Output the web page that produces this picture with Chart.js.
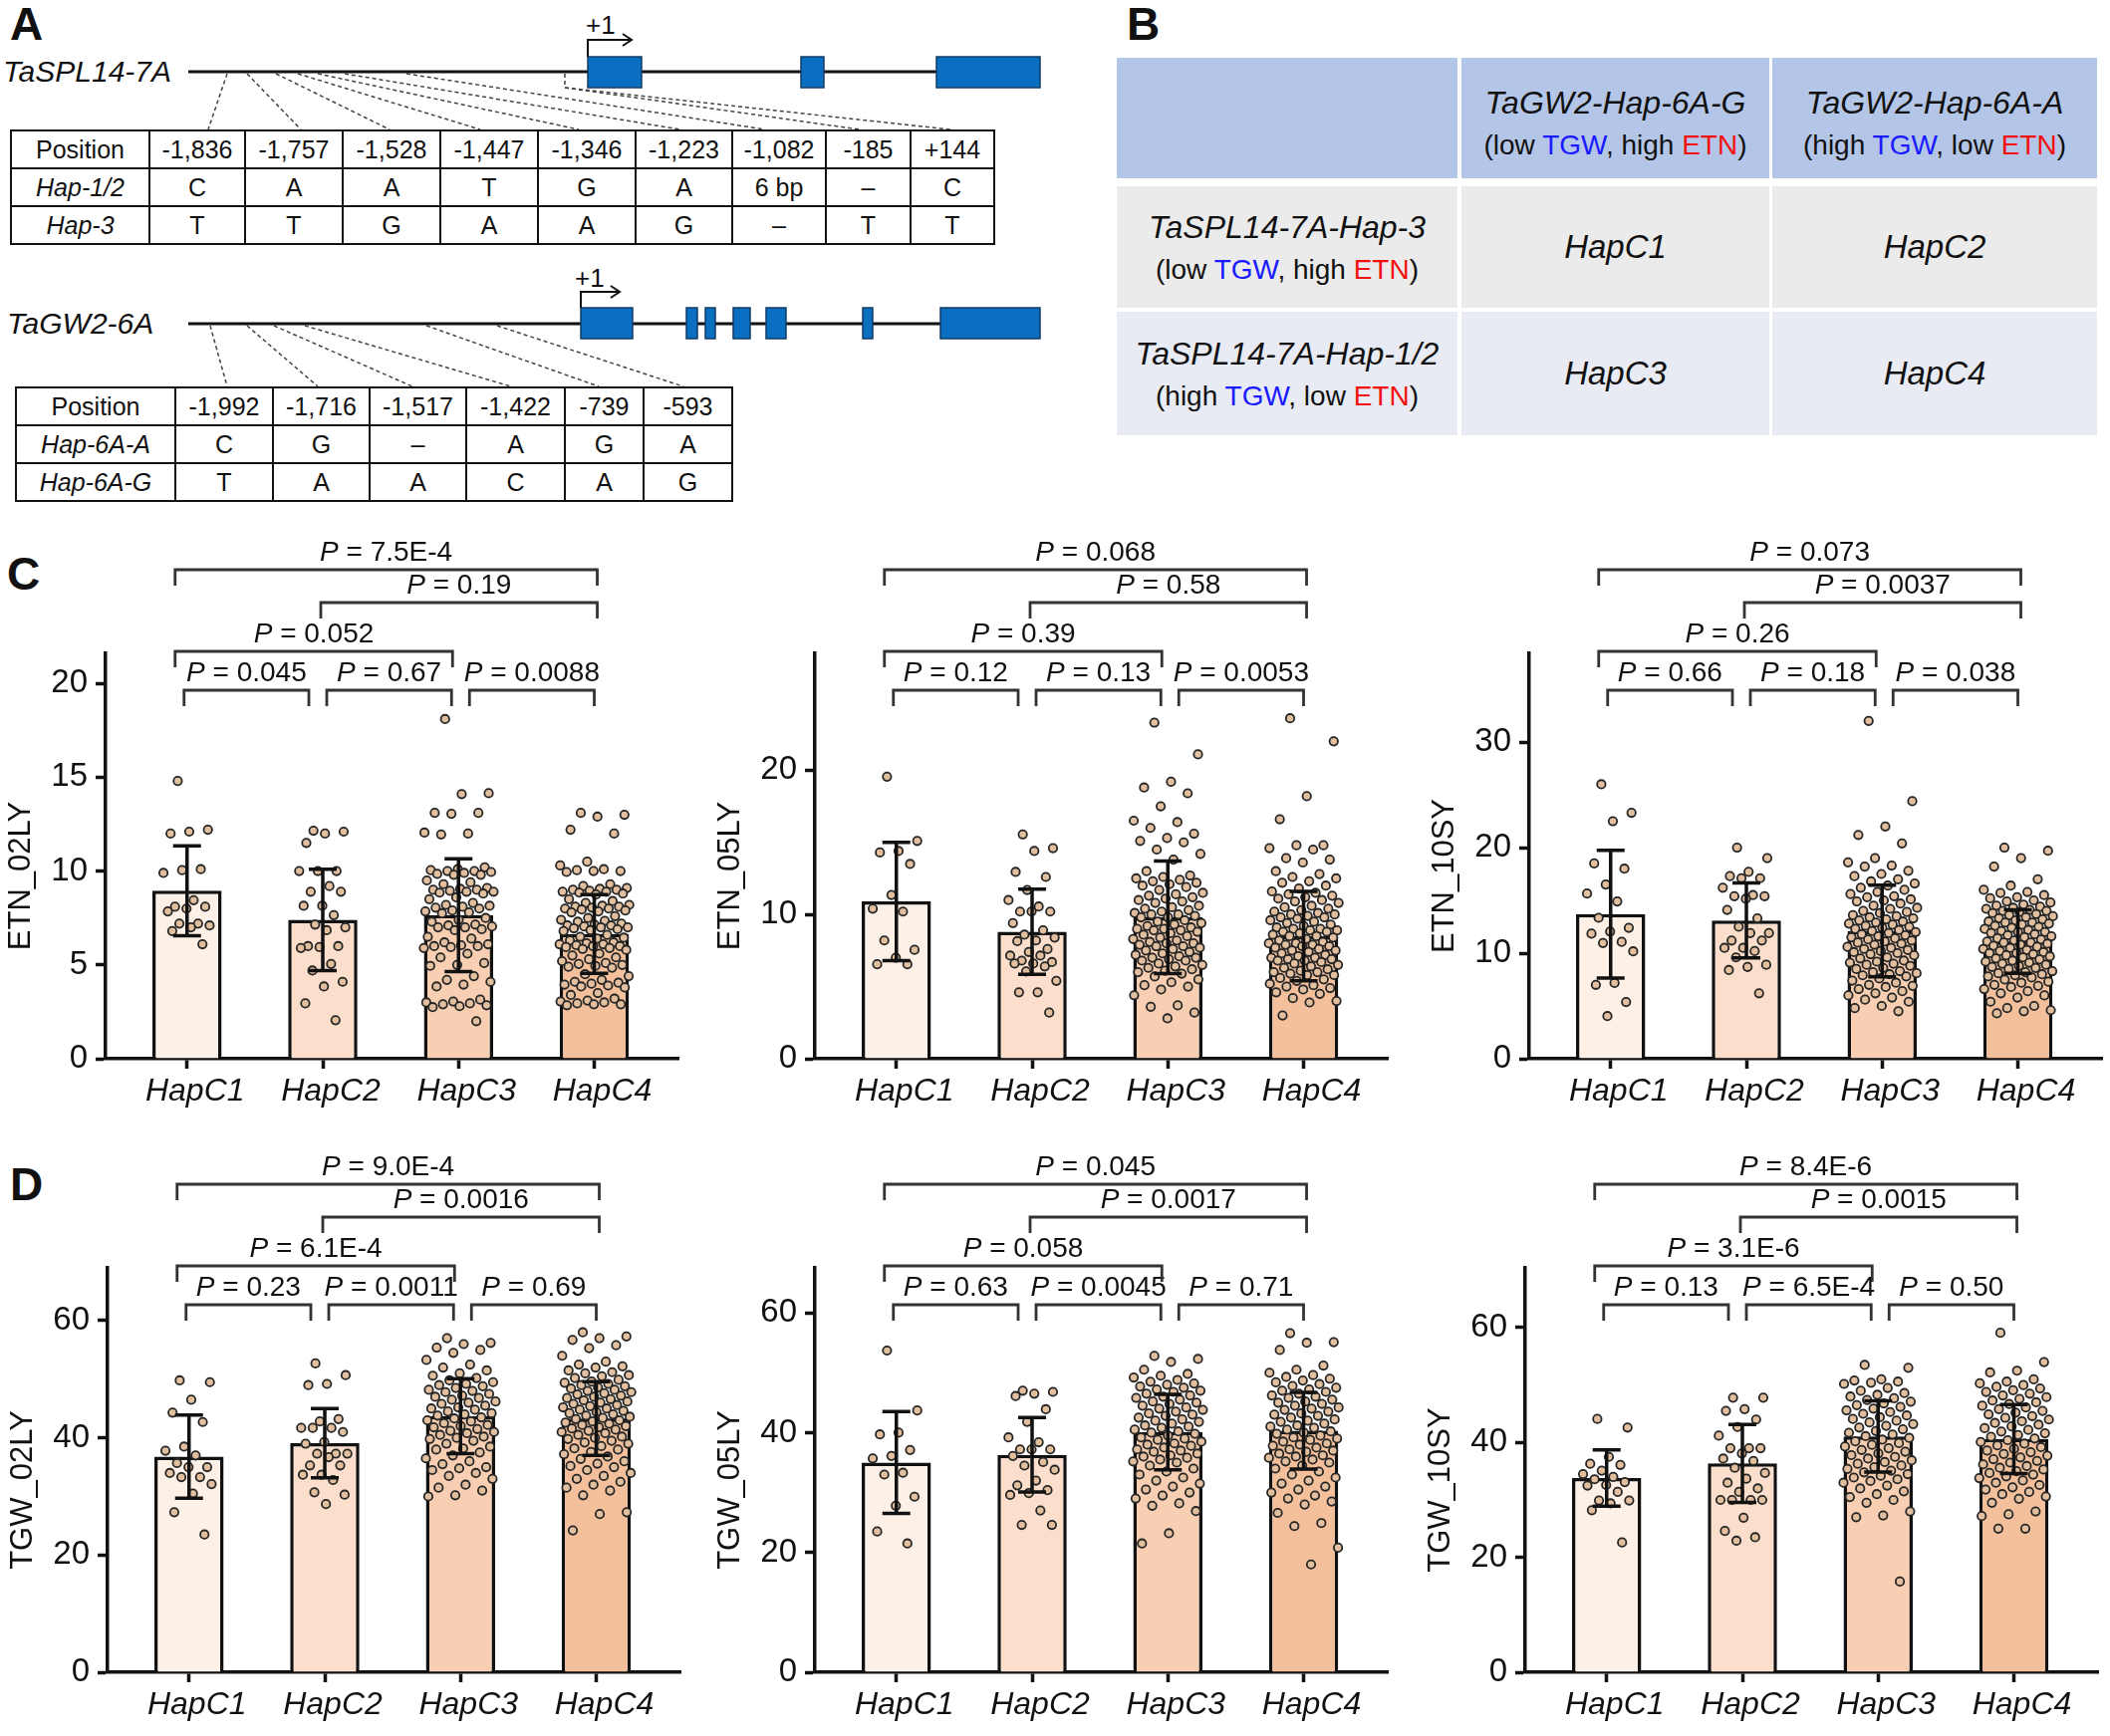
<!DOCTYPE html>
<html>
<head>
<meta charset="utf-8">
<script src="https://cdn.jsdelivr.net/npm/chart.js@4.4.1/dist/chart.umd.min.js"></script>
<style>
body{margin:0;width:2118px;height:1743px;position:relative;background:#fff;font-family:'Liberation Sans',Arial,sans-serif;color:#111;overflow:hidden}
.lab{position:absolute;font-weight:bold;font-size:46px;line-height:46px}
.gt{position:absolute;font-style:italic;font-size:30px;line-height:30px}
table.snp{position:absolute;border-collapse:collapse;table-layout:fixed;font-size:25px}
table.snp td{border:2px solid #111;text-align:center;padding:0;height:36px;white-space:nowrap}
table.snp td.i{font-style:italic}
.cell{position:absolute;display:flex;flex-direction:column;align-items:center;justify-content:center}
.nm{font-style:italic;font-size:32px;line-height:46px}
.ph{font-size:28px;line-height:40px}
.hc{font-style:italic;font-size:33px}
.tg{color:#1a1aff}.en{color:#f21010}
canvas{position:absolute}
</style>
</head>
<body>

<div class="lab" style="left:10px;top:1px">A</div>
<div class="lab" style="left:1131px;top:1px">B</div>
<div class="lab" style="left:7px;top:553px">C</div>
<div class="lab" style="left:10px;top:1166px">D</div>

<!-- gene structures -->
<div class="gt" style="left:3px;top:57px">TaSPL14-7A</div>
<div class="gt" style="left:7px;top:310px">TaGW2-6A</div>
<svg style="position:absolute;left:0;top:0" width="1060" height="520">
  <g stroke="#444" stroke-width="1.5" stroke-dasharray="4 3" fill="none">
    <line x1="228" y1="74" x2="209" y2="130"/>
    <line x1="248" y1="74" x2="302" y2="130"/>
    <line x1="277" y1="74" x2="391" y2="130"/>
    <line x1="299" y1="74" x2="482" y2="130"/>
    <line x1="319" y1="74" x2="581" y2="130"/>
    <line x1="346" y1="74" x2="683" y2="130"/>
    <line x1="408" y1="74" x2="768" y2="130"/>
    <polyline points="567,74 567,88 863,130"/>
    <line x1="567" y1="88" x2="954" y2="130"/>
    <line x1="211" y1="327" x2="228" y2="388"/>
    <line x1="248" y1="327" x2="319" y2="388"/>
    <line x1="275" y1="327" x2="414" y2="388"/>
    <line x1="306" y1="327" x2="513" y2="388"/>
    <line x1="428" y1="327" x2="601" y2="388"/>
    <line x1="499" y1="327" x2="686" y2="388"/>
  </g>
  <line x1="189" y1="72" x2="1044" y2="72" stroke="#111" stroke-width="3"/>
  <line x1="189" y1="325" x2="1044" y2="325" stroke="#111" stroke-width="3"/>
  <g fill="#0b6fc1" stroke="#123c66" stroke-width="1.5">
    <rect x="590" y="57" width="54" height="31"/>
    <rect x="804" y="57" width="23" height="31"/>
    <rect x="940" y="57" width="104" height="31"/>
    <rect x="583" y="309" width="52" height="31"/>
    <rect x="689" y="309" width="11" height="31"/>
    <rect x="708" y="309" width="10" height="31"/>
    <rect x="736" y="309" width="17" height="31"/>
    <rect x="769" y="309" width="20" height="31"/>
    <rect x="866" y="309" width="10" height="31"/>
    <rect x="944" y="309" width="100" height="31"/>
  </g>
  <g stroke="#111" stroke-width="2" fill="none">
    <polyline points="590,57 590,40 634,40"/>
    <polyline points="625,34 634,40 625,46"/>
    <polyline points="583,309 583,293 622,293"/>
    <polyline points="613,287 622,293 613,299"/>
  </g>
  <g font-family="Liberation Sans, Arial, sans-serif" font-size="26" fill="#111">
    <text x="588" y="34">+1</text>
    <text x="577" y="288">+1</text>
  </g>
</svg>

<table class="snp" style="left:10px;top:130px;width:987px">
  <colgroup><col style="width:139px"><col style="width:96px"><col style="width:98px"><col style="width:98px"><col style="width:98px"><col style="width:98px"><col style="width:97px"><col style="width:94px"><col style="width:85px"><col style="width:84px"></colgroup>
  <tr><td>Position</td><td>-1,836</td><td>-1,757</td><td>-1,528</td><td>-1,447</td><td>-1,346</td><td>-1,223</td><td>-1,082</td><td>-185</td><td>+144</td></tr>
  <tr><td class="i">Hap-1/2</td><td>C</td><td>A</td><td>A</td><td>T</td><td>G</td><td>A</td><td>6 bp</td><td>–</td><td>C</td></tr>
  <tr><td class="i">Hap-3</td><td>T</td><td>T</td><td>G</td><td>A</td><td>A</td><td>G</td><td>–</td><td>T</td><td>T</td></tr>
</table>

<table class="snp" style="left:15px;top:388px;width:719px">
  <colgroup><col style="width:160px"><col style="width:98px"><col style="width:97px"><col style="width:97px"><col style="width:99px"><col style="width:79px"><col style="width:89px"></colgroup>
  <tr><td>Position</td><td>-1,992</td><td>-1,716</td><td>-1,517</td><td>-1,422</td><td>-739</td><td>-593</td></tr>
  <tr><td class="i">Hap-6A-A</td><td>C</td><td>G</td><td>–</td><td>A</td><td>G</td><td>A</td></tr>
  <tr><td class="i">Hap-6A-G</td><td>T</td><td>A</td><td>A</td><td>C</td><td>A</td><td>G</td></tr>
</table>

<!-- haplotype combination table -->
<div class="cell" style="left:1121px;top:58px;width:342px;height:121px;background:#b4c6e7"></div>
<div class="cell" style="left:1467px;top:58px;width:309px;height:121px;background:#b4c6e7;padding-top:9px;box-sizing:border-box">
  <div class="nm">TaGW2-Hap-6A-G</div>
  <div class="ph">(low <span class="tg">TGW</span>, high <span class="en">ETN</span>)</div>
</div>
<div class="cell" style="left:1779px;top:58px;width:326px;height:121px;background:#b4c6e7;padding-top:9px;box-sizing:border-box">
  <div class="nm">TaGW2-Hap-6A-A</div>
  <div class="ph">(high <span class="tg">TGW</span>, low <span class="en">ETN</span>)</div>
</div>
<div class="cell" style="left:1121px;top:187px;width:342px;height:122px;background:#ebebeb">
  <div class="nm">TaSPL14-7A-Hap-3</div>
  <div class="ph">(low <span class="tg">TGW</span>, high <span class="en">ETN</span>)</div>
</div>
<div class="cell hc" style="left:1467px;top:187px;width:309px;height:122px;background:#ebebeb">HapC1</div>
<div class="cell hc" style="left:1779px;top:187px;width:326px;height:122px;background:#ebebeb">HapC2</div>
<div class="cell" style="left:1121px;top:313px;width:342px;height:124px;background:#e8ebf4">
  <div class="nm">TaSPL14-7A-Hap-1/2</div>
  <div class="ph">(high <span class="tg">TGW</span>, low <span class="en">ETN</span>)</div>
</div>
<div class="cell hc" style="left:1467px;top:313px;width:309px;height:124px;background:#e8ebf4">HapC3</div>
<div class="cell hc" style="left:1779px;top:313px;width:326px;height:124px;background:#e8ebf4">HapC4</div>

<script>
const categories = ['HapC1', 'HapC2', 'HapC3', 'HapC4'];
// comparisons, in the order of the P value lists
const pairs = [[0, 1], [1, 2], [2, 3], [0, 2], [1, 3], [0, 3]];

// ETN_02LY
const etn02Mean = [8.95, 7.4, 7.65, 6.65];
const etn02Sd = [2.4, 2.7, 3.0, 2.1];
const etn02Ticks = [0, 5, 10, 15, 20];
const etn02P = ['0.045', '0.67', '0.0088', '0.052', '0.19', '7.5E-4'];
const etn02Pts = [
  [14.8, 12.2, 12.1, 12.0, 10.1, 10.05, 9.9, 8.45, 8.1, 8.1, 8.0, 7.85, 7.2, 7.2, 7.1, 7.0, 6.8, 6.1],
  [12.15, 12.1, 12.0, 11.5, 10.0, 10.0, 10.0, 9.2, 8.9, 8.9, 8.15, 8.15, 7.65, 7.15, 7.0, 6.85, 6.0, 6.0, 5.95, 5.9, 5.05, 4.7, 4.1, 3.85, 2.95, 2.05],
  [18.1, 14.15, 14.1, 13.1, 13.1, 13.05, 12.05, 12.0, 11.95, 10.2, 10.1, 10.05, 10.0, 10.0, 9.95, 9.9, 9.85, 9.8, 9.8, 9.5, 9.4, 9.3, 9.1, 9.05, 9.0, 9.0, 8.95, 8.9, 8.9, 8.85, 8.8, 8.6, 8.5, 8.3, 8.2, 8.15, 8.1, 8.05, 8.0, 7.9, 7.85, 7.8, 7.75, 7.5, 7.4, 7.3, 7.15, 7.1, 7.05, 7.0, 7.0, 6.9, 6.85, 6.5, 6.4, 6.2, 6.1, 6.05, 6.0, 6.0, 5.95, 5.9, 5.6, 5.4, 5.1, 5.0, 4.95, 4.4, 4.2, 4.1, 3.95, 3.85, 3.15, 3.05, 3.0, 2.95, 2.9, 2.85, 2.8, 2.75, 2.0],
  [13.1, 13.0, 12.9, 12.2, 12.0, 10.5, 10.3, 10.1, 10.05, 10.0, 10.0, 9.95, 9.3, 9.2, 9.1, 9.05, 9.0, 9.0, 8.95, 8.9, 8.9, 8.85, 8.8, 8.75, 8.5, 8.4, 8.3, 8.2, 8.15, 8.1, 8.1, 8.05, 8.0, 8.0, 7.95, 7.9, 7.85, 7.8, 7.6, 7.5, 7.4, 7.35, 7.3, 7.2, 7.15, 7.1, 7.1, 7.05, 7.0, 7.0, 6.95, 6.9, 6.85, 6.8, 6.6, 6.5, 6.45, 6.4, 6.3, 6.2, 6.15, 6.1, 6.1, 6.05, 6.0, 6.0, 5.95, 5.9, 5.85, 5.8, 5.6, 5.5, 5.4, 5.3, 5.2, 5.1, 5.05, 5.0, 4.95, 4.9, 4.85, 4.5, 4.4, 4.2, 4.1, 4.05, 4.0, 3.95, 3.9, 3.85, 3.8, 3.5, 3.4, 3.2, 3.1, 3.05, 3.0, 2.95, 2.9, 2.9, 2.85]
];

// ETN_05LY
const etn05Mean = [10.9, 8.8, 9.8, 8.5];
const etn05Sd = [4.1, 2.95, 3.9, 3.1];
const etn05Ticks = [0, 10, 20];
const etn05P = ['0.12', '0.13', '0.0053', '0.39', '0.58', '0.068'];
const etn05Pts = [
  [19.55, 15.1, 14.4, 14.3, 13.5, 11.35, 10.4, 10.2, 8.2, 7.55, 7.0, 6.55, 6.55],
  [15.55, 14.6, 14.4, 12.95, 12.6, 11.7, 11.0, 10.55, 10.2, 10.2, 10.2, 9.4, 8.9, 8.6, 8.4, 8.2, 8.15, 7.6, 7.4, 7.15, 7.15, 6.8, 6.7, 6.6, 6.6, 6.4, 6.05, 5.4, 4.6, 4.6, 3.2],
  [23.3, 21.1, 19.2, 18.8, 18.4, 17.5, 16.5, 16.4, 16.0, 15.6, 15.3, 15.1, 15.0, 14.5, 14.2, 13.8, 13.0, 12.7, 12.6, 12.5, 12.4, 12.3, 12.2, 12.1, 12.0, 11.9, 11.7, 11.5, 11.4, 11.3, 11.2, 11.1, 11.0, 10.9, 10.8, 10.6, 10.5, 10.4, 10.3, 10.2, 10.1, 10.0, 10.0, 9.9, 9.8, 9.8, 9.6, 9.5, 9.4, 9.3, 9.2, 9.1, 9.0, 9.0, 8.9, 8.9, 8.8, 8.7, 8.6, 8.5, 8.4, 8.3, 8.2, 8.1, 8.0, 8.0, 7.9, 7.8, 7.8, 7.7, 7.6, 7.5, 7.4, 7.3, 7.2, 7.1, 7.0, 7.0, 6.9, 6.8, 6.8, 6.6, 6.5, 6.4, 6.3, 6.2, 6.1, 6.0, 5.9, 5.7, 5.5, 5.3, 5.1, 5.0, 4.8, 4.4, 3.7, 3.6, 3.2, 2.8],
  [23.6, 22.0, 18.2, 16.6, 14.8, 14.8, 14.6, 14.5, 13.9, 13.8, 13.6, 13.0, 12.8, 12.6, 12.5, 12.3, 12.2, 12.0, 11.8, 11.6, 11.5, 11.4, 11.3, 11.2, 11.1, 11.0, 10.9, 10.8, 10.6, 10.5, 10.4, 10.3, 10.2, 10.1, 10.0, 10.0, 9.9, 9.8, 9.8, 9.7, 9.6, 9.5, 9.4, 9.3, 9.2, 9.1, 9.0, 9.0, 8.9, 8.9, 8.8, 8.8, 8.7, 8.6, 8.5, 8.5, 8.4, 8.3, 8.2, 8.1, 8.0, 8.0, 7.9, 7.9, 7.8, 7.8, 7.7, 7.6, 7.5, 7.5, 7.4, 7.3, 7.2, 7.1, 7.0, 7.0, 6.9, 6.9, 6.8, 6.8, 6.7, 6.6, 6.5, 6.4, 6.3, 6.2, 6.1, 6.0, 6.0, 5.9, 5.8, 5.8, 5.6, 5.5, 5.4, 5.2, 5.1, 5.0, 4.9, 4.8, 4.6, 4.5, 4.2, 4.0, 3.9, 3.0]
];

// ETN_10SY
const etn10Mean = [13.7, 13.1, 12.1, 11.1];
const etn10Sd = [6.05, 3.55, 4.35, 3.0];
const etn10Ticks = [0, 10, 20, 30];
const etn10P = ['0.66', '0.18', '0.038', '0.26', '0.0037', '0.073'];
const etn10Pts = [
  [26.0, 23.3, 22.5, 18.5, 18.0, 16.5, 15.65, 14.9, 13.35, 12.4, 12.05, 11.85, 11.07, 10.96, 10.17, 7.18, 7.0, 5.37, 4.04],
  [20.0, 19.0, 17.7, 17.3, 17.1, 17.1, 16.2, 15.5, 15.4, 15.4, 15.15, 14.1, 13.3, 12.5, 11.9, 11.9, 11.2, 11.2, 10.5, 10.5, 10.2, 9.6, 8.9, 8.7, 8.4, 6.2],
  [32.0, 24.4, 22.0, 21.2, 20.4, 19.0, 18.6, 18.3, 18.2, 17.8, 17.5, 17.3, 17.0, 16.8, 16.6, 16.4, 16.2, 16.0, 15.8, 15.6, 15.4, 15.3, 15.1, 15.0, 14.9, 14.7, 14.5, 14.3, 14.2, 14.0, 13.9, 13.8, 13.6, 13.5, 13.4, 13.3, 13.2, 13.1, 13.0, 12.9, 12.8, 12.7, 12.6, 12.5, 12.4, 12.3, 12.2, 12.1, 12.0, 11.9, 11.8, 11.7, 11.6, 11.5, 11.4, 11.3, 11.2, 11.1, 11.0, 10.9, 10.8, 10.6, 10.5, 10.4, 10.3, 10.2, 10.1, 10.0, 9.9, 9.8, 9.6, 9.5, 9.3, 9.2, 9.1, 9.0, 8.9, 8.8, 8.6, 8.5, 8.3, 8.2, 8.1, 8.0, 7.9, 7.8, 7.6, 7.4, 7.2, 7.0, 6.9, 6.8, 6.6, 6.4, 6.2, 6.0, 5.8, 5.6, 5.4, 5.0, 4.8, 4.5],
  [20.0, 19.7, 19.0, 18.2, 17.0, 16.4, 16.0, 15.8, 15.7, 15.5, 15.3, 15.2, 15.0, 14.9, 14.8, 14.6, 14.5, 14.4, 14.3, 14.2, 14.1, 14.0, 14.0, 13.9, 13.8, 13.7, 13.6, 13.5, 13.4, 13.3, 13.2, 13.1, 13.0, 12.9, 12.9, 12.8, 12.7, 12.6, 12.5, 12.4, 12.3, 12.2, 12.1, 12.0, 12.0, 11.9, 11.8, 11.7, 11.6, 11.5, 11.4, 11.3, 11.2, 11.1, 11.0, 11.0, 10.9, 10.8, 10.7, 10.6, 10.5, 10.4, 10.3, 10.2, 10.1, 10.0, 10.0, 9.9, 9.8, 9.7, 9.6, 9.5, 9.4, 9.3, 9.2, 9.1, 9.0, 8.9, 8.8, 8.7, 8.6, 8.5, 8.3, 8.2, 8.1, 8.0, 7.9, 7.8, 7.7, 7.5, 7.3, 7.2, 7.0, 6.9, 6.8, 6.6, 6.4, 6.2, 6.0, 5.8, 5.4, 5.0, 4.8, 4.6, 4.5, 4.3]
];

// TGW_02LY
const tgw02Mean = [36.8, 39.1, 43.7, 43.3];
const tgw02Sd = [7.1, 5.9, 6.4, 6.3];
const tgwTicks = [0, 20, 40, 60];
const tgw02P = ['0.23', '0.0011', '0.69', '6.1E-4', '0.0016', '9.0E-4'];
const tgw02Pts = [
  [49.8, 49.5, 46.5, 44.3, 42.7, 38.5, 37.8, 37.0, 35.7, 35.0, 35.0, 34.0, 33.3, 33.3, 32.1, 30.5, 27.3, 23.5],
  [52.7, 50.7, 49.2, 49.0, 43.2, 42.8, 41.7, 41.7, 41.7, 41.0, 39.3, 39.0, 37.3, 37.3, 37.3, 36.7, 35.3, 35.3, 33.7, 33.7, 32.8, 30.7, 30.3, 28.7],
  [57.0, 56.2, 56.0, 55.4, 55.0, 54.5, 53.3, 52.5, 52.0, 51.5, 51.0, 50.6, 50.2, 49.8, 49.5, 49.2, 49.0, 48.8, 48.5, 48.2, 48.0, 47.8, 47.5, 47.2, 47.0, 46.8, 46.5, 46.2, 46.0, 45.8, 45.5, 45.2, 45.0, 44.8, 44.5, 44.2, 44.0, 43.8, 43.5, 43.3, 43.0, 42.8, 42.5, 42.2, 42.0, 41.8, 41.5, 41.2, 41.0, 40.8, 40.5, 40.2, 40.0, 39.8, 39.5, 39.0, 38.5, 38.2, 38.0, 37.5, 37.0, 36.5, 36.0, 35.5, 35.0, 34.8, 34.5, 34.0, 33.5, 33.0, 32.0, 31.5, 31.0, 30.2, 30.0],
  [58.0, 57.3, 57.0, 56.7, 55.8, 55.3, 54.0, 53.0, 52.5, 52.2, 52.0, 51.5, 51.2, 51.0, 50.7, 50.5, 50.2, 49.9, 49.6, 49.4, 49.2, 49.0, 48.8, 48.6, 48.4, 48.2, 48.0, 47.8, 47.6, 47.4, 47.2, 47.0, 46.8, 46.6, 46.4, 46.2, 46.0, 45.8, 45.6, 45.4, 45.2, 45.0, 44.8, 44.6, 44.4, 44.2, 44.0, 43.8, 43.6, 43.4, 43.2, 43.0, 42.8, 42.6, 42.4, 42.2, 42.0, 41.8, 41.6, 41.4, 41.2, 41.0, 40.8, 40.5, 40.2, 40.0, 39.8, 39.5, 39.2, 39.0, 38.6, 38.2, 38.0, 37.6, 37.2, 36.8, 36.4, 36.0, 35.6, 35.2, 35.0, 34.5, 34.0, 33.5, 33.0, 32.5, 32.0, 31.5, 31.0, 30.2, 27.3, 27.0, 24.2]
];

// TGW_05LY
const tgw05Mean = [35.0, 36.3, 40.1, 40.3];
const tgw05Sd = [8.5, 6.2, 6.3, 6.4];
const tgw05P = ['0.63', '0.0045', '0.71', '0.058', '0.0017', '0.045'];
const tgw05Pts = [
  [53.7, 43.7, 40.0, 39.7, 37.1, 36.1, 35.7, 33.3, 33.0, 29.3, 27.8, 23.5, 21.5],
  [47.0, 46.8, 46.5, 46.1, 43.9, 41.8, 39.2, 38.4, 37.2, 37.2, 37.2, 36.1, 35.1, 34.5, 33.8, 32.0, 31.2, 30.4, 29.9, 29.6, 27.0, 24.6, 24.6],
  [52.8, 52.3, 51.8, 50.5, 49.8, 49.5, 49.2, 48.8, 48.5, 48.2, 48.0, 47.7, 47.5, 47.2, 47.0, 46.8, 46.5, 46.2, 46.0, 45.8, 45.5, 45.2, 45.0, 44.8, 44.5, 44.2, 44.0, 43.8, 43.5, 43.2, 43.0, 42.8, 42.5, 42.2, 42.0, 41.8, 41.5, 41.2, 41.0, 40.8, 40.5, 40.2, 40.0, 39.8, 39.5, 39.2, 39.0, 38.8, 38.5, 38.2, 38.0, 37.8, 37.5, 37.2, 37.0, 36.8, 36.5, 36.2, 36.0, 35.8, 35.5, 35.2, 35.0, 34.5, 34.0, 33.5, 33.0, 32.5, 32.0, 31.5, 31.0, 30.5, 30.0, 29.5, 29.0, 28.2, 27.8, 26.9, 23.2, 21.5],
  [56.6, 55.1, 55.0, 53.8, 51.2, 50.5, 50.0, 49.6, 49.3, 49.0, 48.7, 48.4, 48.1, 47.8, 47.5, 47.2, 47.0, 46.8, 46.5, 46.2, 46.0, 45.8, 45.5, 45.2, 45.0, 44.8, 44.5, 44.2, 44.0, 43.8, 43.5, 43.2, 43.0, 42.8, 42.5, 42.2, 42.0, 41.8, 41.5, 41.2, 41.0, 40.8, 40.5, 40.2, 40.0, 39.8, 39.5, 39.2, 39.0, 38.8, 38.5, 38.2, 38.0, 37.8, 37.5, 37.2, 37.0, 36.8, 36.5, 36.2, 36.0, 35.8, 35.5, 35.2, 35.0, 34.5, 34.0, 33.5, 33.0, 32.5, 32.0, 31.5, 31.0, 30.5, 30.0, 29.5, 29.0, 28.5, 28.0, 26.6, 24.9, 24.4, 20.8, 18.0]
];

// TGW_10SY
const tgw10Mean = [33.8, 36.35, 41.05, 40.6];
const tgw10Sd = [4.9, 6.8, 6.2, 6.0];
const tgw10P = ['0.13', '6.5E-4', '0.50', '3.1E-6', '0.0015', '8.4E-6'];
const tgw10Pts = [
  [44.1, 42.6, 37.5, 36.3, 36.1, 35.1, 34.5, 34.0, 33.6, 33.1, 32.6, 32.5, 31.4, 29.9, 29.9, 29.4, 28.2, 22.6],
  [47.8, 47.8, 45.8, 45.5, 44.0, 42.7, 41.2, 39.0, 39.0, 39.0, 38.1, 37.2, 36.8, 35.6, 34.7, 33.7, 33.0, 32.0, 31.4, 30.0, 30.0, 30.0, 30.0, 26.9, 24.6, 23.5, 22.9],
  [53.5, 53.0, 51.0, 50.8, 50.6, 50.4, 50.2, 49.5, 49.0, 48.6, 48.3, 48.0, 47.7, 47.4, 47.1, 46.8, 46.5, 46.2, 45.9, 45.6, 45.3, 45.0, 44.7, 44.4, 44.1, 43.8, 43.5, 43.2, 42.9, 42.6, 42.3, 42.0, 41.7, 41.4, 41.1, 40.8, 40.5, 40.2, 39.9, 39.6, 39.3, 39.0, 38.7, 38.4, 38.1, 37.8, 37.5, 37.2, 36.9, 36.6, 36.3, 36.0, 35.7, 35.4, 35.1, 34.8, 34.5, 34.2, 33.9, 33.6, 33.3, 33.0, 32.5, 32.0, 31.5, 31.0, 30.5, 30.0, 29.5, 28.0, 27.3, 27.0, 15.8],
  [59.1, 54.0, 52.5, 52.2, 51.0, 50.6, 50.3, 50.0, 49.7, 49.4, 49.1, 48.8, 48.5, 48.2, 47.9, 47.6, 47.3, 47.0, 46.7, 46.4, 46.1, 45.8, 45.5, 45.2, 44.9, 44.6, 44.3, 44.0, 43.7, 43.4, 43.1, 42.8, 42.5, 42.2, 41.9, 41.6, 41.3, 41.0, 40.7, 40.4, 40.1, 39.8, 39.5, 39.2, 38.9, 38.6, 38.3, 38.0, 37.7, 37.4, 37.1, 36.8, 36.5, 36.2, 35.9, 35.6, 35.3, 35.0, 34.7, 34.4, 34.1, 33.8, 33.4, 33.0, 32.6, 32.2, 31.8, 31.4, 31.0, 30.6, 30.2, 29.5, 28.0, 27.5, 27.2, 25.0, 25.0]
];

Chart.defaults.font.family = "'Liberation Sans', Arial, sans-serif";
Chart.defaults.color = '#111';
const barColors = ['#fdf0e6', '#fbdfcc', '#f8cfb2', '#f4c09c'];
const FONT = "'Liberation Sans', Arial, sans-serif";

// spread the dots of a group sideways (beeswarm-like, deterministic)
function jitter(k, n) {
  const spread = n < 40 ? 0.36 : 0.52;
  return (((k + 0.5) * 0.618034) % 1 - 0.5) * spread;
}

function drawPanel(axisX, axisTop, zero, title, yMax, yTicks, means, sds, pts, pvals) {
  const top = axisTop - 128;
  const bottom = zero < 1200 ? 1130 : 1743;
  const cv = document.createElement('canvas');
  cv.width = 683;
  cv.height = bottom - top;
  cv.style.left = (axisX - 100) + 'px';
  cv.style.top = top + 'px';
  document.body.appendChild(cv);

  const dots = [];
  pts.forEach((g, i) => g.forEach((v, k) => dots.push({x: i + jitter(k, g.length), y: v})));

  const overlay = {
    id: 'overlay',
    afterDatasetsDraw(chart) {
      const {ctx, scales: {x, y}} = chart;
      ctx.save();
      ctx.strokeStyle = '#111';
      ctx.lineWidth = 3.5;
      means.forEach((m, i) => {
        const cx = x.getPixelForValue(i);
        const hi = y.getPixelForValue(m + sds[i]);
        const lo = y.getPixelForValue(m - sds[i]);
        ctx.beginPath();
        ctx.moveTo(cx, hi); ctx.lineTo(cx, lo);
        ctx.moveTo(cx - 14, hi); ctx.lineTo(cx + 14, hi);
        ctx.moveTo(cx - 14, lo); ctx.lineTo(cx + 14, lo);
        ctx.stroke();
      });
      ctx.restore();
    },
    afterDraw(chart) {
      const {ctx, chartArea: a, scales: {x}} = chart;
      const c = i => x.getPixelForValue(i);
      const start = c(0) - 3, end = c(3), gap = 18;
      const len = (end - start - 2 * gap) / 3;
      const rows = [37, 37, 37, -2, -51, -84];
      ctx.save();
      pairs.forEach(([i, j], n) => {
        let l, r;
        if (j - i === 1) {
          l = start + i * (len + gap);
          r = l + len;
        } else {
          l = c(i) + (i === 0 ? -12 : -2);
          r = c(j) + (j === 3 ? 3 : -6);
        }
        const ly = a.top + rows[n];
        ctx.strokeStyle = '#333';
        ctx.lineWidth = 2.8;
        ctx.beginPath();
        ctx.moveTo(l, ly + 16); ctx.lineTo(l, ly); ctx.lineTo(r, ly); ctx.lineTo(r, ly + 16);
        ctx.stroke();
        ctx.fillStyle = '#111';
        ctx.textBaseline = 'middle';
        ctx.font = 'italic 28px ' + FONT;
        const wP = ctx.measureText('P').width;
        ctx.font = '28px ' + FONT;
        const rest = ' = ' + pvals[n];
        const wR = ctx.measureText(rest).width;
        const tx = (l + r) / 2 - (wP + wR) / 2;
        ctx.font = 'italic 28px ' + FONT;
        ctx.fillText('P', tx, ly - 17);
        ctx.font = '28px ' + FONT;
        ctx.fillText(rest, tx + wP, ly - 17);
      });
      // y axis title
      ctx.translate(a.left - 85, (a.top + a.bottom) / 2 + 20);
      ctx.rotate(-Math.PI / 2);
      ctx.textAlign = 'center';
      ctx.textBaseline = 'middle';
      ctx.font = '31px ' + FONT;
      ctx.fillStyle = '#111';
      ctx.fillText(title, 0, 0);
      ctx.restore();
    }
  };

  new Chart(cv, {
    type: 'bar',
    data: {
      datasets: [
        {
          type: 'scatter',
          data: dots,
          order: 1,
          pointRadius: 4.2,
          pointBorderWidth: 1.8,
          pointBackgroundColor: '#e2bf9e',
          pointBorderColor: '#262626'
        },
        {
          type: 'bar',
          data: means.map((m, i) => ({x: i, y: m})),
          order: 2,
          backgroundColor: barColors,
          borderColor: '#111',
          borderWidth: 3.5,
          barPercentage: 0.51,
          categoryPercentage: 1
        }
      ]
    },
    options: {
      responsive: false,
      animation: false,
      layout: {padding: {top: 128, right: 8, left: 0, bottom: 0}},
      plugins: {legend: {display: false}, tooltip: {enabled: false}},
      scales: {
        x: {
          type: 'linear', min: -0.6, max: 3.62, offset: false,
          afterBuildTicks: s => { s.ticks = categories.map((cat, i) => ({value: i})); },
          afterFit: s => { s.height = bottom - zero; },
          ticks: {callback: v => categories[v], font: {size: 32, style: 'italic'}, color: '#111', padding: 4, labelOffset: 8, maxRotation: 0, autoSkip: false},
          grid: {display: true, drawOnChartArea: false, drawTicks: true, tickLength: 10, tickWidth: 3.5, tickColor: '#111', offset: false},
          border: {display: true, color: '#111', width: 3.5}
        },
        y: {
          type: 'linear', min: 0, max: yMax,
          afterBuildTicks: s => { s.ticks = yTicks.map(v => ({value: v})); },
          afterFit: s => { s.width = 100; },
          ticks: {font: {size: 33}, color: '#111', padding: 8},
          grid: {display: true, drawOnChartArea: false, drawTicks: true, tickLength: 10, tickWidth: 3.5, tickColor: '#111'},
          border: {display: true, color: '#111', width: 3.5}
        }
      }
    },
    plugins: [overlay]
  });
}

drawPanel(106, 656, 1063, 'ETN_02LY', 21.6, etn02Ticks, etn02Mean, etn02Sd, etn02Pts, etn02P);
drawPanel(818, 656, 1063, 'ETN_05LY', 28.1, etn05Ticks, etn05Mean, etn05Sd, etn05Pts, etn05P);
drawPanel(1535, 656, 1063, 'ETN_10SY', 38.4, etn10Ticks, etn10Mean, etn10Sd, etn10Pts, etn10P);
drawPanel(108, 1273, 1679, 'TGW_02LY', 69, tgwTicks, tgw02Mean, tgw02Sd, tgw02Pts, tgw02P);
drawPanel(818, 1273, 1679, 'TGW_05LY', 67.5, tgwTicks, tgw05Mean, tgw05Sd, tgw05Pts, tgw05P);
drawPanel(1531, 1273, 1679, 'TGW_10SY', 70.4, tgwTicks, tgw10Mean, tgw10Sd, tgw10Pts, tgw10P);
</script>
</body>
</html>
